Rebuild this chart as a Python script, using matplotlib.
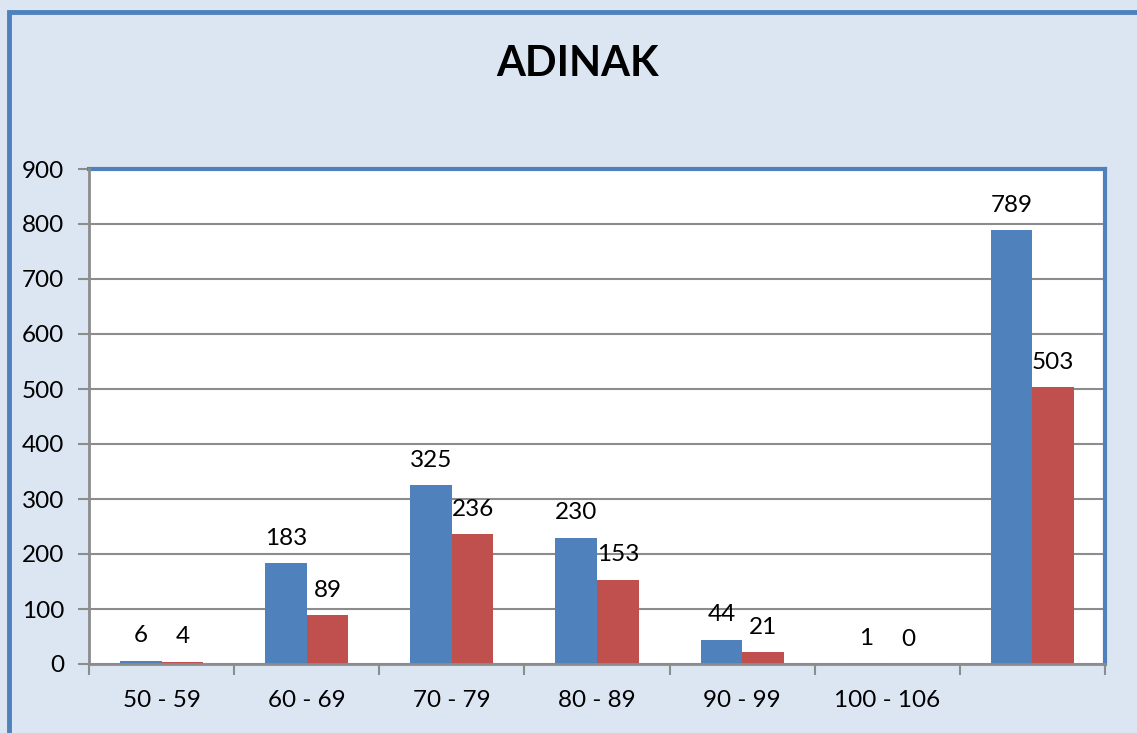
import matplotlib
matplotlib.use("Agg")
import matplotlib.pyplot as plt
from matplotlib.patches import Rectangle
import numpy as np

categories = ["50 - 59", "60 - 69", "70 - 79", "80 - 89", "90 - 99", "100 - 106", ""]
series_blue = [6, 183, 325, 230, 44, 1, 789]
series_red = [4, 89, 236, 153, 21, 0, 503]
title = "ADINAK"

BLUE = "#4f81bd"
RED = "#c0504d"
BG = "#dce6f2"
GRAY = "#8c8c8c"
FONT = ["Lato", "DejaVu Sans"]
FS = 17.5

W, H = 1137, 733
fig = plt.figure(figsize=(W / 100, H / 100), dpi=100)
fig.patch.set_facecolor(BG)

# outer chart border (left and top visible, rest cropped)
fig.add_artist(Rectangle((9 / W, -0.1), 1.2, (H - 12) / H + 0.1,
                         transform=fig.transFigure, fill=False,
                         edgecolor=BLUE, linewidth=3.5, zorder=0))

ax = fig.add_axes([89 / W, (H - 664) / H, (1105 - 89) / W, (664 - 169) / H])
ax.set_facecolor("white")

x = np.arange(len(categories))
w = 0.286
bb = ax.bar(x - w / 2, series_blue, w, color=BLUE, zorder=3)
br = ax.bar(x + w / 2, series_red, w, color=RED, zorder=3)

for bars, vals in ((bb, series_blue), (br, series_red)):
    for rect, v in zip(bars, vals):
        ax.annotate(str(v), (rect.get_x() + rect.get_width() / 2, v),
                    xytext=(0, 18), textcoords="offset points",
                    ha="center", va="center", fontsize=FS, family=FONT,
                    color="black", zorder=5)

ax.set_xlim(-0.5, len(categories) - 0.5)
ax.set_ylim(0, 900)
ax.set_yticks(np.arange(0, 901, 100))
ax.yaxis.grid(True, color=GRAY, linewidth=1.5, zorder=0)
ax.set_axisbelow(True)

ax.set_xticks(x)
ax.set_xticklabels(categories, fontsize=FS, family=FONT)
ax.set_xticks(np.arange(-0.5, len(categories), 1.0), minor=True)
ax.tick_params(axis="x", which="major", length=0, pad=19)
ax.tick_params(axis="x", which="minor", length=8, width=1.5, color=GRAY)
ax.tick_params(axis="y", length=8, width=1.5, color=GRAY, pad=10)
for lbl in ax.get_yticklabels():
    lbl.set_fontsize(FS)
    lbl.set_family(FONT)

for s in ("top", "right"):
    ax.spines[s].set_color(BLUE)
    ax.spines[s].set_linewidth(3)
for s in ("left", "bottom"):
    ax.spines[s].set_color(GRAY)
    ax.spines[s].set_linewidth(2)
    ax.spines[s].set_zorder(4)

fig.text(578 / W, 1 - 64 / H, title, ha="center", va="center",
         fontsize=30, fontweight="bold", family=FONT)

fig.savefig("out.png", dpi=100, facecolor=BG)
